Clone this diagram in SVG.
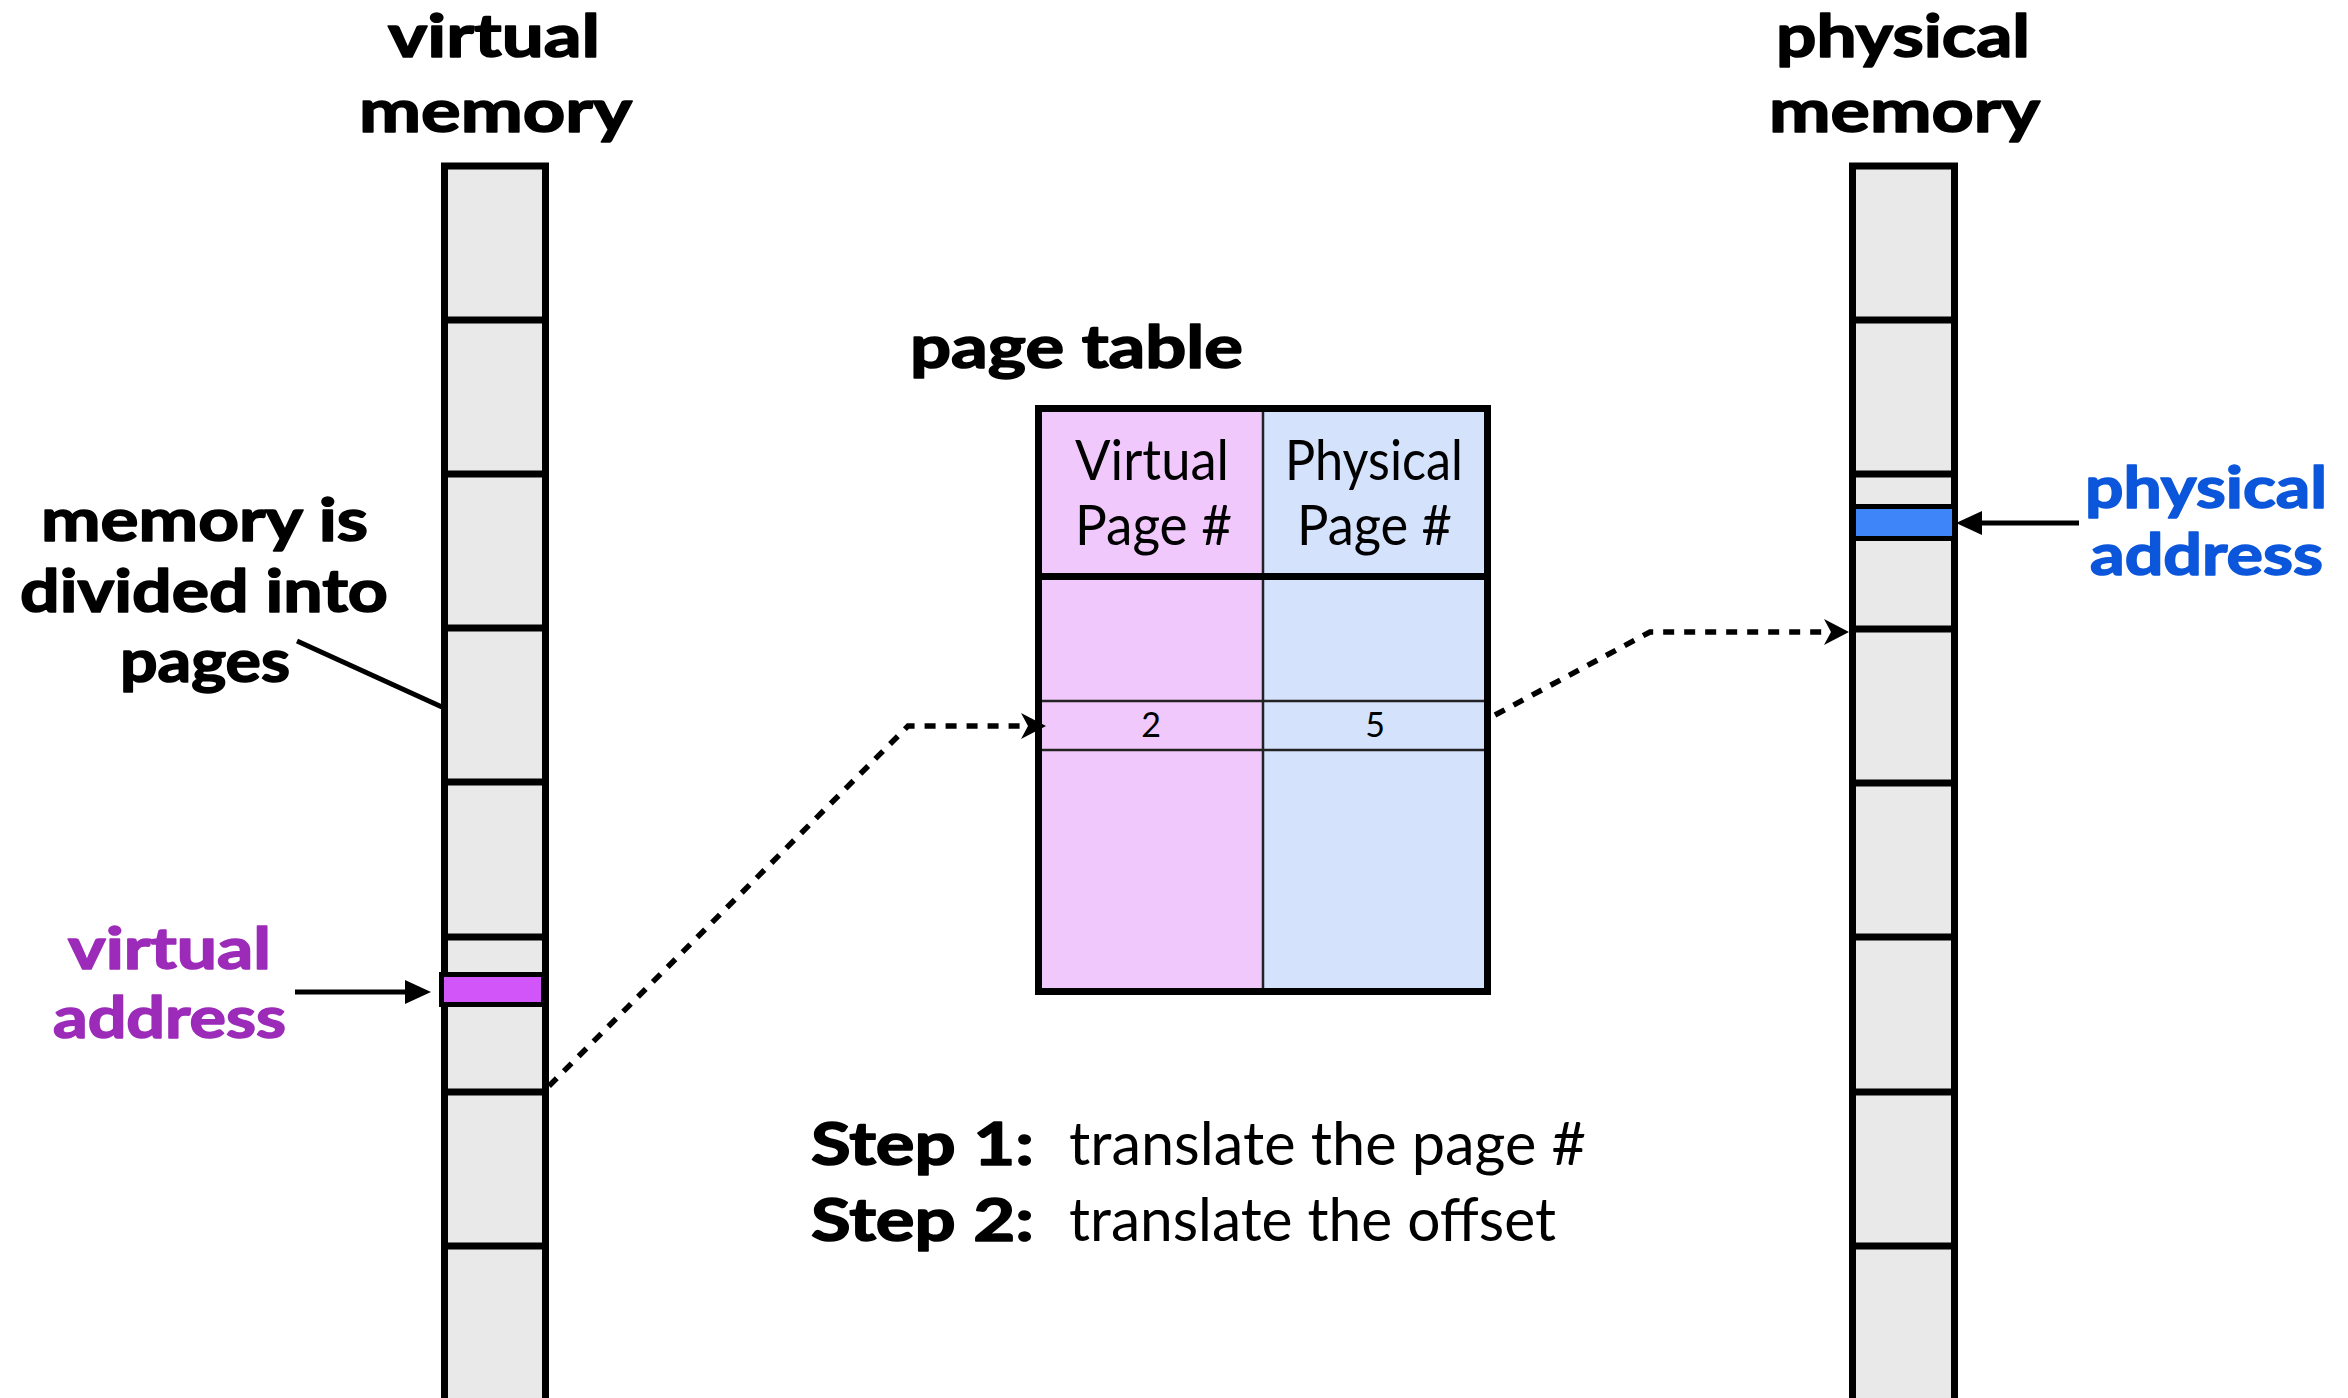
<svg xmlns="http://www.w3.org/2000/svg" width="2348" height="1398" viewBox="0 0 2348 1398">
  <style>
    .bold { font-family: Lato, "Open Sans", "DejaVu Sans", sans-serif; font-weight: 700; stroke: #000; stroke-width: 1.6px; stroke-linejoin: round; }
    .reg { font-family: Lato, "Open Sans", "DejaVu Sans", sans-serif; font-weight: 400; }
    .title { font-size: 60px; fill: #000; }
    .purple { fill: #9B2BB8; stroke: #9B2BB8; }
    .blue { fill: #0B56DA; stroke: #0B56DA; }
    .mem { fill: #E9E9E9; stroke: #000; stroke-width: 7; }
    .div { stroke: #000; stroke-width: 7; }
    .thin { stroke: #222; stroke-width: 2.5; }
    .dotted { fill: none; stroke: #000; stroke-width: 5.5; stroke-dasharray: 11 10; }
    .solid { fill: none; stroke: #000; stroke-width: 5; }
  </style>
  <defs>
    <!-- notched head for the dotted translation arrows -->
    <marker id="notch" viewBox="0 0 25 26" refX="10" refY="13" markerWidth="25" markerHeight="26" markerUnits="userSpaceOnUse" orient="auto">
      <path d="M0,0 L25,13 L0,26 L7,13 Z" fill="#000"/>
    </marker>
    <!-- plain triangle head for the address pointers -->
    <marker id="tri" viewBox="0 0 26 24" refX="2" refY="12" markerWidth="26" markerHeight="24" markerUnits="userSpaceOnUse" orient="auto">
      <path d="M0,0 L26,12 L0,24 Z" fill="#000"/>
    </marker>
  </defs>

  <rect width="2348" height="1398" fill="#fff"/>

  <!-- virtual memory column -->
  <g id="virtual-memory">
    <text class="bold title" x="388" y="57" textLength="212" lengthAdjust="spacingAndGlyphs">virtual</text>
    <text class="bold title" x="359" y="132" textLength="273" lengthAdjust="spacingAndGlyphs">memory</text>
    <rect class="mem" x="444.5" y="166" width="101" height="1260"/>
    <g class="div">
      <line x1="441" y1="320" x2="549" y2="320"/>
      <line x1="441" y1="474" x2="549" y2="474"/>
      <line x1="441" y1="628" x2="549" y2="628"/>
      <line x1="441" y1="782" x2="549" y2="782"/>
      <line x1="441" y1="937" x2="549" y2="937"/>
      <line x1="441" y1="1092" x2="549" y2="1092"/>
      <line x1="441" y1="1246" x2="549" y2="1246"/>
    </g>
    <rect x="441.5" y="974.5" width="102" height="30" fill="#D255F9" stroke="#000" stroke-width="5"/>
  </g>

  <!-- physical memory column -->
  <g id="physical-memory">
    <text class="bold title" x="1776" y="57" textLength="254" lengthAdjust="spacingAndGlyphs">physical</text>
    <text class="bold title" x="1769" y="132" textLength="271" lengthAdjust="spacingAndGlyphs">memory</text>
    <rect class="mem" x="1852.5" y="166" width="102" height="1260"/>
    <g class="div">
      <line x1="1849" y1="320" x2="1958" y2="320"/>
      <line x1="1849" y1="474" x2="1958" y2="474"/>
      <line x1="1849" y1="629" x2="1958" y2="629"/>
      <line x1="1849" y1="783" x2="1958" y2="783"/>
      <line x1="1849" y1="937" x2="1958" y2="937"/>
      <line x1="1849" y1="1092" x2="1958" y2="1092"/>
      <line x1="1849" y1="1246" x2="1958" y2="1246"/>
    </g>
    <rect x="1853.5" y="506.5" width="101" height="32" fill="#3D85F8" stroke="#000" stroke-width="5"/>
  </g>

  <!-- page table -->
  <g id="page-table">
    <text class="bold title" x="910" y="368" textLength="333" lengthAdjust="spacingAndGlyphs">page table</text>
    <rect x="1038.5" y="408.5" width="224.5" height="583" fill="#F0C8FC"/>
    <rect x="1263" y="408.5" width="224.5" height="583" fill="#D4E2FC"/>
    <line class="thin" x1="1263" y1="408" x2="1263" y2="992"/>
    <line class="thin" x1="1038" y1="701" x2="1488" y2="701"/>
    <line class="thin" x1="1038" y1="750" x2="1488" y2="750"/>
    <line class="div" x1="1035" y1="576.5" x2="1491" y2="576.5"/>
    <rect x="1038.5" y="408.5" width="449" height="583" fill="none" stroke="#000" stroke-width="7"/>
    <g class="reg" font-size="57" fill="#000">
      <text x="1075" y="480" textLength="154" lengthAdjust="spacingAndGlyphs">Virtual</text>
      <text x="1075" y="545" textLength="157" lengthAdjust="spacingAndGlyphs">Page #</text>
      <text x="1285" y="480" textLength="178" lengthAdjust="spacingAndGlyphs">Physical</text>
      <text x="1297" y="545" textLength="155" lengthAdjust="spacingAndGlyphs">Page #</text>
    </g>
    <g class="reg" font-size="34" fill="#000" text-anchor="middle">
      <text x="1151" y="737">2</text>
      <text x="1375" y="737">5</text>
    </g>
  </g>

  <!-- side labels -->
  <g id="pages-note">
    <text class="bold title" x="41" y="541" textLength="327" lengthAdjust="spacingAndGlyphs">memory is</text>
    <text class="bold title" x="20" y="612" textLength="368" lengthAdjust="spacingAndGlyphs">divided into</text>
    <text class="bold title" x="120" y="682" textLength="170" lengthAdjust="spacingAndGlyphs">pages</text>
  </g>
  <g id="virtual-address-label">
    <text class="bold purple" font-size="58" x="68" y="969" textLength="203" lengthAdjust="spacingAndGlyphs">virtual</text>
    <text class="bold purple" font-size="58" x="53" y="1038" textLength="233" lengthAdjust="spacingAndGlyphs">address</text>
  </g>
  <g id="physical-address-label">
    <text class="bold blue" font-size="58" x="2085" y="508" textLength="242" lengthAdjust="spacingAndGlyphs">physical</text>
    <text class="bold blue" font-size="58" x="2090" y="575" textLength="233" lengthAdjust="spacingAndGlyphs">address</text>
  </g>
  <g id="steps">
    <text class="bold" font-size="60" x="811" y="1165" textLength="223" lengthAdjust="spacingAndGlyphs">Step 1:</text>
    <text class="bold" font-size="60" x="811" y="1241" textLength="223" lengthAdjust="spacingAndGlyphs">Step 2:</text>
    <text class="reg" font-size="60" x="1069" y="1165" textLength="517" lengthAdjust="spacingAndGlyphs">translate the page #</text>
    <text class="reg" font-size="60" x="1069" y="1241" textLength="487" lengthAdjust="spacingAndGlyphs">translate the offset</text>
  </g>

  <!-- connectors -->
  <g id="connectors">
    <line class="solid" x1="297" y1="641" x2="442" y2="707"/>
    <path class="dotted" d="M549,1086 L908,726 L1031,726" marker-end="url(#notch)"/>
    <path class="dotted" d="M1495,715 L1650,632 L1834,632" marker-end="url(#notch)"/>
    <path class="solid" d="M295,992 L407,992" marker-end="url(#tri)"/>
    <path class="solid" d="M2079,523 L1980,523" marker-end="url(#tri)"/>
  </g>
</svg>
